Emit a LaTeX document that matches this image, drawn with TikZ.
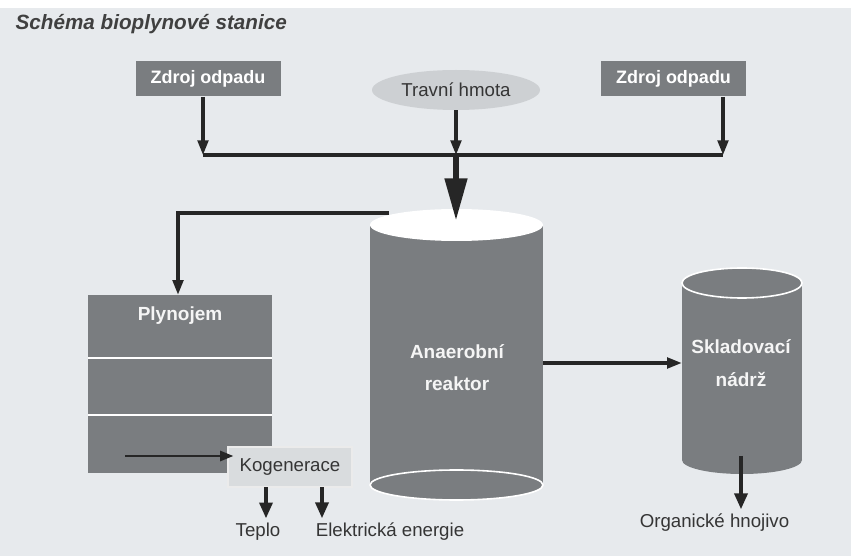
\documentclass[tikz,border=0pt]{standalone}
\usepackage{fontspec}
\setmainfont{Liberation Sans}
\usetikzlibrary{arrows.meta,shapes.geometric}
\definecolor{bg}{HTML}{E7EAED}
\definecolor{boxgray}{HTML}{7A7D80}
\definecolor{ellgray}{HTML}{CDD0D3}
\definecolor{kogfill}{HTML}{D9DCDE}
\definecolor{arrowc}{HTML}{262626}
\definecolor{txt}{HTML}{353535}
\begin{document}
\begin{tikzpicture}[x=0.75pt,y=-0.75pt,
  darkbox/.style={fill=boxgray,text=white,inner sep=0pt,font=\fontsize{13.5}{16}\selectfont\bfseries},
  whitelab/.style={text=white!96!black,align=center,font=\fontsize{14.25}{23.5}\selectfont\bfseries},
  plainlab/.style={text=txt,font=\fontsize{14}{16}\selectfont},
  arr/.style={draw=arrowc,line width=2.3pt,-{Triangle[length=11pt,width=8pt]}},
  thinarr/.style={draw=arrowc,line width=2pt,-{Triangle[length=10pt,width=7.5pt]}},
  kogarr/.style={draw=arrowc,line width=3pt,-{Triangle[length=12pt,width=9.5pt]}},
  bigarr/.style={draw=arrowc,line width=5pt,-{Triangle[length=32pt,width=16pt]}},
  busline/.style={draw=arrowc,line width=2.6pt}
]
\useasboundingbox (0,0) rectangle (851,556);
\fill[white] (0,0) rectangle (851,556);
\fill[bg] (0,8) rectangle (851,556);

% title
\node[anchor=west,text=black!75,font=\fontsize{15.5}{18}\selectfont\bfseries\itshape] (title) at (11,24) {Schéma bioplynové stanice};

% sources
\node[darkbox,minimum width=108.75pt,minimum height=26.25pt] (zl) at (208,79) {Zdroj odpadu};
\node[darkbox,minimum width=108.75pt,minimum height=26.25pt] (zr) at (673.5,79) {Zdroj odpadu};
\node[ellipse,fill=ellgray,minimum width=126pt,minimum height=30pt,inner sep=0pt,plainlab] (grass) at (456,90) {Travní hmota};

% bus
\coordinate (busL) at (203,155);
\coordinate (busR) at (723,155);
\coordinate (busM) at (456,155);
\draw[busline] (busL) -- (busR);
\draw[arr] (zl.south -| busL) -- (busL);
\draw[arr] (zr.south -| busR) -- (busR);
\draw[arr] (grass.south) -- (busM);

% reactor
\node[fill=boxgray,minimum width=129.75pt,minimum height=195pt,inner sep=0pt] (reactor) at (456.5,355) {};
\fill[boxgray,draw=white,line width=1.2pt] (456.5,485) ellipse [x radius=86.5,y radius=15];
\fill[white] (456.5,225) ellipse [x radius=86.5,y radius=16];
\node[whitelab] (reactorlab) at (457,367.5) {Anaerobní\\reaktor};
\coordinate (rtop) at (456,221);
\draw[bigarr] (busM) -- (rtop);

% gas holder
\node[fill=boxgray,minimum width=138pt,minimum height=133.5pt,inner sep=0pt] (plyn) at (180,384) {};
\draw[white,line width=2.2pt] (88,358) -- (272,358);
\draw[white,line width=2.2pt] (88,415) -- (272,415);
\node[whitelab] (plynlab) at (180,316) {Plynojem};
\coordinate (gasout) at (389,213);
\coordinate (gasturn) at (178,213);
\draw[arr] (gasout) -- (gasturn) -- (gasturn |- plyn.north);

% cogeneration
\node[fill=kogfill,draw=white!92!black,line width=0.8pt,minimum width=93pt,minimum height=30pt,inner sep=0pt,plainlab] (kog) at (290,467) {Kogenerace};
\coordinate (kin) at (125,456);
\draw[thinarr] (kin) -- (kin -| kog.west) -- ++(6,0);
\coordinate (kt) at (266,487);
\coordinate (ke) at (322,487);
\node[plainlab] (teplo) at (258,532) {Teplo};
\node[plainlab] (elek) at (390,532) {Elektrická energie};
\draw[kogarr] (kt) -- (kt |- teplo.north);
\draw[kogarr] (ke) -- (ke |- elek.north);

% storage
\node[fill=boxgray,minimum width=90pt,minimum height=132.75pt,inner sep=0pt] (store) at (742,371.5) {};
\fill[boxgray] (742,460) ellipse [x radius=60,y radius=14];
\fill[boxgray,draw=white,line width=1.2pt] (742,283) ellipse [x radius=60,y radius=15];
\node[whitelab,font=\fontsize{14.25}{24.75}\selectfont\bfseries] (storelab) at (741,363.5) {Skladovací\\nádrž};
\coordinate (r2s) at (543,363);
\draw[arr] (r2s) -- (r2s -| store.west);
\coordinate (sout) at (741,456);
\node[plainlab] (hnoj) at (714.5,523) {Organické hnojivo};
\draw[kogarr] (sout) -- (sout |- hnoj.north);
\end{tikzpicture}
\end{document}
